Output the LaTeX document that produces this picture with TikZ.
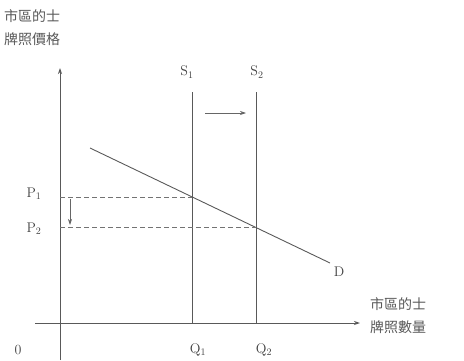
\documentclass[tikz,border=0pt]{standalone}
\usepackage{fontspec}
\newfontfamily\cjk{Noto Sans CJK TC}
\usetikzlibrary{arrows.meta}
\begin{document}
\begin{tikzpicture}[x=1pt,y=1pt,
  ln/.style={draw=black!65, line width=0.9pt},
  dsh/.style={draw=black!55, line width=0.8pt, dash pattern=on 5pt off 3pt},
  arr/.style={-{Stealth[length=6pt,width=4pt]}},
  lbl/.style={text=black!75, font=\fontsize{14}{15}\selectfont, inner sep=1pt},
  cj/.style={text=black!65, font=\cjk\fontsize{14}{23}\selectfont, align=left, inner sep=0pt}]
\useasboundingbox (0,0) rectangle (464,360);
% axes
\coordinate (ybot) at (60,0);
\coordinate (ytop) at (60,292);
\coordinate (xl) at (35,37);
\coordinate (xr) at (360,37);
\draw[ln,arr] (ybot) -- (ytop);
\draw[ln,arr] (xl) -- (xr);
% supply lines
\coordinate (s1b) at (192,37);
\coordinate (s1t) at (192,268);
\coordinate (s2b) at (256,37);
\coordinate (s2t) at (256,268);
\draw[ln] (s1b) -- (s1t);
\draw[ln] (s2b) -- (s2t);
% demand
\coordinate (d1) at (90,212);
\coordinate (d2) at (330,97);
\draw[ln] (d1) -- (d2);
% equilibria
\coordinate (e1) at (192,163);
\coordinate (e2) at (256,132.5);
\coordinate (p1) at (60,163);
\coordinate (p2) at (60,132.5);
\draw[dsh] (p1) -- (e1);
\draw[dsh] (p2) -- (e2);
% shift arrows
\coordinate (a1) at (205,247);
\coordinate (a2) at (246,247);
\draw[draw=black!60, line width=0.7pt, arr] (a1) -- (a2);
\coordinate (b1) at (70,161);
\coordinate (b2) at (70,135);
\draw[draw=black!60, line width=0.7pt, arr] (b1) -- (b2);
% labels
\node[lbl] (ls1) at (187,288) {S$_1$};
\node[lbl] (ls2) at (257,288) {S$_2$};
\node[lbl] (lp1) at (34,166) {P$_1$};
\node[lbl] (lp2) at (34,131) {P$_2$};
\node[lbl] (ld) at (339,88) {D};
\node[lbl] (lq1) at (198,10) {Q$_1$};
\node[lbl] (lq2) at (264,10) {Q$_2$};
\node[lbl] (lo) at (18,10) {0};
\node[cj, anchor=north west] (ty) at (4,351) {市區的士\\牌照價格};
\node[cj, anchor=west] (tx) at (370,44) {市區的士\\牌照數量};
\end{tikzpicture}
\end{document}
